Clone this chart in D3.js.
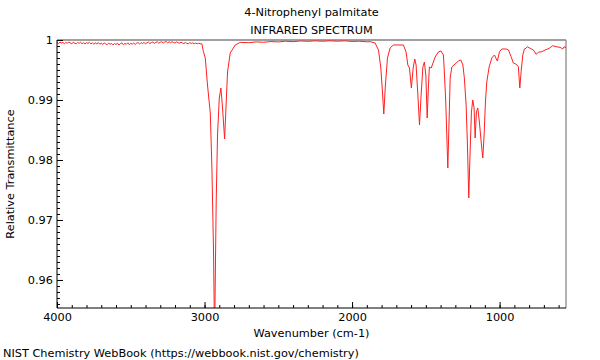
<!DOCTYPE html>
<html>
<head>
<meta charset="utf-8">
<script src="https://cdn.jsdelivr.net/npm/d3@7"></script>
<style>
  html, body { margin: 0; padding: 0; background: #fff; }
  svg { display: block; font-family: "DejaVu Sans", sans-serif; }
</style>
</head>
<body>
<svg id="chart" width="600" height="360"></svg>
<script>
const titleLines = ["4-Nitrophenyl palmitate", "INFRARED SPECTRUM"];
const xLabel = "Wavenumber (cm-1)";
const yLabel = "Relative Transmittance";
const footer = "NIST Chemistry WebBook (https://webbook.nist.gov/chemistry)";
const xDomain = [4000, 550];
const yDomain = [0.95533, 1.0];
const xTicks = [4000, 3000, 2000, 1000];
const yTicks = [0.96, 0.97, 0.98, 0.99, 1];

const wavenumber = [
  4000,3990,3980,3970,3960,3950,3940,3930,3920,3910,3900,3890,3880,3870,3860,3850,3840,3830,3820,3810,
  3800,3790,3780,3770,3760,3750,3740,3730,3720,3710,3700,3690,3680,3670,3660,3650,3640,3630,3620,3610,
  3600,3590,3580,3570,3560,3550,3540,3530,3520,3510,3500,3490,3480,3470,3460,3450,3440,3430,3420,3410,
  3400,3390,3380,3370,3360,3350,3340,3330,3320,3310,3300,3290,3280,3270,3260,3250,3240,3230,3220,3210,
  3200,3190,3180,3170,3160,3150,3140,3130,3120,3110,3100,3090,3080,3070,3060,3050,3040,3030,
  3018,3008,2995,2980,2961,2950,2939,2932,2921,2912,2900,2889,2878,2864,2853,2844,2826,2792,2758,
  2700,2650,2600,2550,2500,2450,2400,2350,2300,2250,2200,2150,2100,2050,2000,1950,1900,1877,
  1844,1821,1805,1794,1785,1774,1760,1742,1720,1652,1634,1622,1611,1598,1586,1575,1566,1554,1543,
  1532,1520,1510,1500,1491,1482,1476,1464,1449,1437,1415,1398,1381,1376,1365,1358,1351,1342,1335,
  1324,1302,1279,1263,1249,1239,1227,1218,1209,1200,1191,1182,1173,1166,1157,1148,1137,1125,1114,
  1105,1096,1087,1071,1053,1035,1019,1015,1001,985,956,940,922,907,890,873,863,854,843,832,
  821,812,793,771,753,737,714,692,663,640,617,590,572,563,550
];

const transmittance = [
  0.99962,0.99940,0.99966,0.99948,0.99960,0.99938,0.99958,0.99946,0.99966,0.99950,0.99940,0.99960,0.99948,0.99936,0.99958,0.99944,0.99962,0.99938,0.99954,0.99934,
  0.99956,0.99942,0.99960,0.99936,0.99952,0.99930,0.99952,0.99936,0.99956,0.99930,0.99948,0.99926,0.99950,0.99936,0.99922,0.99948,0.99928,0.99944,0.99918,0.99942,
  0.99924,0.99948,0.99916,0.99940,0.99952,0.99920,0.99944,0.99928,0.99954,0.99922,0.99946,0.99930,0.99950,0.99926,0.99948,0.99956,0.99932,0.99958,0.99940,0.99962,
  0.99934,0.99954,0.99964,0.99940,0.99958,0.99966,0.99944,0.99960,0.99970,0.99946,0.99962,0.99972,0.99950,0.99966,0.99974,0.99952,0.99970,0.99954,0.99972,0.99958,
  0.99950,0.99968,0.99956,0.99946,0.99964,0.99950,0.99940,0.99958,0.99944,0.99938,0.99956,0.99942,0.99952,0.99938,0.99950,0.99936,0.99946,0.99938,
  0.99935,0.99810,0.99700,0.99250,0.98783,0.97867,0.96467,0.95000,0.97300,0.98417,0.99033,0.99200,0.98867,0.98350,0.98967,0.99467,0.99783,0.99917,0.99960,
  0.99955,0.99968,0.99962,0.99974,0.99968,0.99980,0.99972,0.99984,0.99978,0.99986,0.99979,0.99987,0.99980,0.99986,0.99976,0.99980,0.99970,0.99972,
  0.99950,0.99833,0.99533,0.99133,0.98767,0.99250,0.99700,0.99867,0.99917,0.99917,0.99800,0.99583,0.99533,0.99200,0.99533,0.99683,0.99583,0.99083,0.98583,
  0.99083,0.99550,0.99633,0.99417,0.98700,0.99250,0.99550,0.99533,0.99633,0.99717,0.99800,0.99817,0.99750,0.99533,0.98967,0.98417,0.97867,0.98700,0.99367,
  0.99550,0.99600,0.99650,0.99667,0.99583,0.99367,0.98917,0.98250,0.97367,0.98133,0.98800,0.99000,0.98867,0.98367,0.98800,0.98867,0.98633,0.98300,0.98033,
  0.98417,0.98967,0.99300,0.99550,0.99700,0.99750,0.99667,0.99650,0.99805,0.99850,0.99850,0.99833,0.99722,0.99617,0.99600,0.99555,0.99200,0.99472,0.99750,0.99850,
  0.99862,0.99888,0.99862,0.99833,0.99762,0.99795,0.99805,0.99833,0.99862,0.99905,0.99888,0.99878,0.99850,0.99888,0.99872
];

const data = wavenumber.map((w, i) => ({ w, t: transmittance[i] }));

const svg = d3.select("#chart");
const margin = { left: 57, right: 34, top: 40, bottom: 52 };
const W = 600, H = 360;
const FS = 11.3;
const x = d3.scaleLinear().domain(xDomain).range([margin.left, W - margin.right]);
const y = d3.scaleLinear().domain(yDomain).range([H - margin.bottom, margin.top]);

svg.append("defs").append("clipPath").attr("id", "clip")
  .append("rect")
  .attr("x", margin.left).attr("y", margin.top)
  .attr("width", x.range()[1] - x.range()[0])
  .attr("height", y.range()[0] - y.range()[1]);

// frame top and right
svg.append("line")
  .attr("x1", margin.left).attr("x2", W - margin.right)
  .attr("y1", margin.top).attr("y2", margin.top)
  .attr("stroke", "#a0a0a0").attr("stroke-width", 2);
svg.append("line")
  .attr("x1", W - margin.right).attr("x2", W - margin.right)
  .attr("y1", margin.top).attr("y2", H - margin.bottom)
  .attr("stroke", "#808080").attr("stroke-width", 1.2);

// spectrum
svg.append("path")
  .datum(data)
  .attr("clip-path", "url(#clip)")
  .attr("fill", "none")
  .attr("stroke", "#ff2020")
  .attr("stroke-width", 1)
  .attr("d", d3.line().x(d => x(d.w)).y(d => y(d.t)));

// x axis
const xMinor = d3.range(4000, 549, -100);
const xg = svg.append("g").attr("transform", `translate(0,${H - margin.bottom})`);
xg.call(d3.axisBottom(x).tickValues(xMinor).tickSize(-3).tickFormat(""))
  .call(g => g.select(".domain").remove());
xg.append("g").call(d3.axisBottom(x).tickValues(xTicks).tickSize(-6).tickFormat(d3.format("d")).tickPadding(5))
  .call(g => g.select(".domain").remove())
  .call(g => g.selectAll("text").attr("font-size", FS).attr("fill", "#000").attr("font-family", "DejaVu Sans"));
xg.append("line").attr("x1", x.range()[0]).attr("x2", x.range()[1])
  .attr("stroke", "#000").attr("stroke-width", 1);

// y axis
const yMinor = d3.range(0, 46).map(i => 1 - i * 0.001).filter(v => v >= yDomain[0]);
const yg = svg.append("g").attr("transform", `translate(${margin.left},0)`);
yg.call(d3.axisLeft(y).tickValues(yMinor).tickSize(-3).tickFormat(""))
  .call(g => g.select(".domain").remove());
yg.append("g").call(d3.axisLeft(y).tickValues(yTicks).tickSize(-6).tickPadding(4).tickFormat(d => d === 1 ? "1" : d3.format(".2f")(d)))
  .call(g => g.select(".domain").remove())
  .call(g => g.selectAll("text").attr("font-size", FS).attr("fill", "#000").attr("font-family", "DejaVu Sans"));
yg.append("line").attr("y1", y.range()[0]).attr("y2", y.range()[1])
  .attr("stroke", "#000").attr("stroke-width", 1);

// titles
const cx = (x.range()[0] + x.range()[1]) / 2;
svg.append("text").attr("x", cx).attr("y", 16).attr("text-anchor", "middle")
  .attr("font-size", FS).text(titleLines[0]);
svg.append("text").attr("x", cx).attr("y", 34).attr("text-anchor", "middle")
  .attr("font-size", FS).text(titleLines[1]);
svg.append("text").attr("x", cx).attr("y", 337).attr("text-anchor", "middle")
  .attr("font-size", FS).text(xLabel);
svg.append("text").attr("transform", `translate(14,${(margin.top + H - margin.bottom) / 2}) rotate(-90)`)
  .attr("text-anchor", "middle").attr("font-size", FS).text(yLabel);
svg.append("text").attr("x", 3).attr("y", 357).attr("font-size", FS).text(footer);
</script>
</body>
</html>
